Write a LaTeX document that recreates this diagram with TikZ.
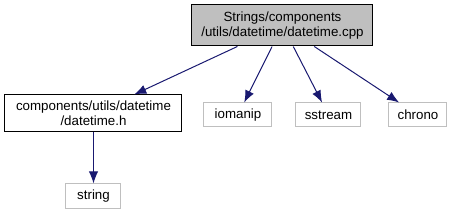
\documentclass[tikz,border=0pt]{standalone}
\usepackage{fontspec}
\setmainfont{Liberation Sans}
\usetikzlibrary{arrows.meta}
\definecolor{edgeblue}{RGB}{25,25,112}
\definecolor{boxgray}{RGB}{191,191,191}
\begin{document}
\begin{tikzpicture}[x=0.75pt,y=-0.75pt,font=\fontsize{10}{11.25}\selectfont,
		file/.style={draw=black,fill=white,align=center,inner sep=0pt,line width=0.75pt},
		sysfile/.style={draw=boxgray,fill=white,align=center,inner sep=0pt,line width=0.75pt},
		dep/.style={draw=edgeblue,line width=0.75pt,-{Latex[length=9pt,width=7pt]}}]
				\useasboundingbox (0,0) rectangle (455,216);
				\node[file,fill=boxgray,minimum width=181*0.75pt,minimum height=41*0.75pt] (cpp) at (282.5,25.5) {Strings/components\\/utils/datetime/datetime.cpp};
				\node[file,minimum width=177*0.75pt,minimum height=37*0.75pt] (hdr) at (93.5,113.5) {components/utils/datetime\\/datetime.h};
				\node[sysfile,minimum width=68*0.75pt,minimum height=24*0.75pt] (iomanip) at (238,115) {iomanip};
				\node[sysfile,minimum width=65*0.75pt,minimum height=24*0.75pt] (sstream) at (328.5,115) {sstream};
				\node[sysfile,minimum width=58*0.75pt,minimum height=24*0.75pt] (chrono) at (418,115) {chrono};
				\node[sysfile,minimum width=55*0.75pt,minimum height=25*0.75pt] (string) at (93.5,196.5) {string};
				\draw[dep] (cpp) -- (hdr);
				\draw[dep] (cpp) -- (iomanip);
				\draw[dep] (cpp) -- (sstream);
				\draw[dep] (cpp) -- (chrono);
				\draw[dep] (hdr) -- (string);
		\end{tikzpicture}
\end{document}
